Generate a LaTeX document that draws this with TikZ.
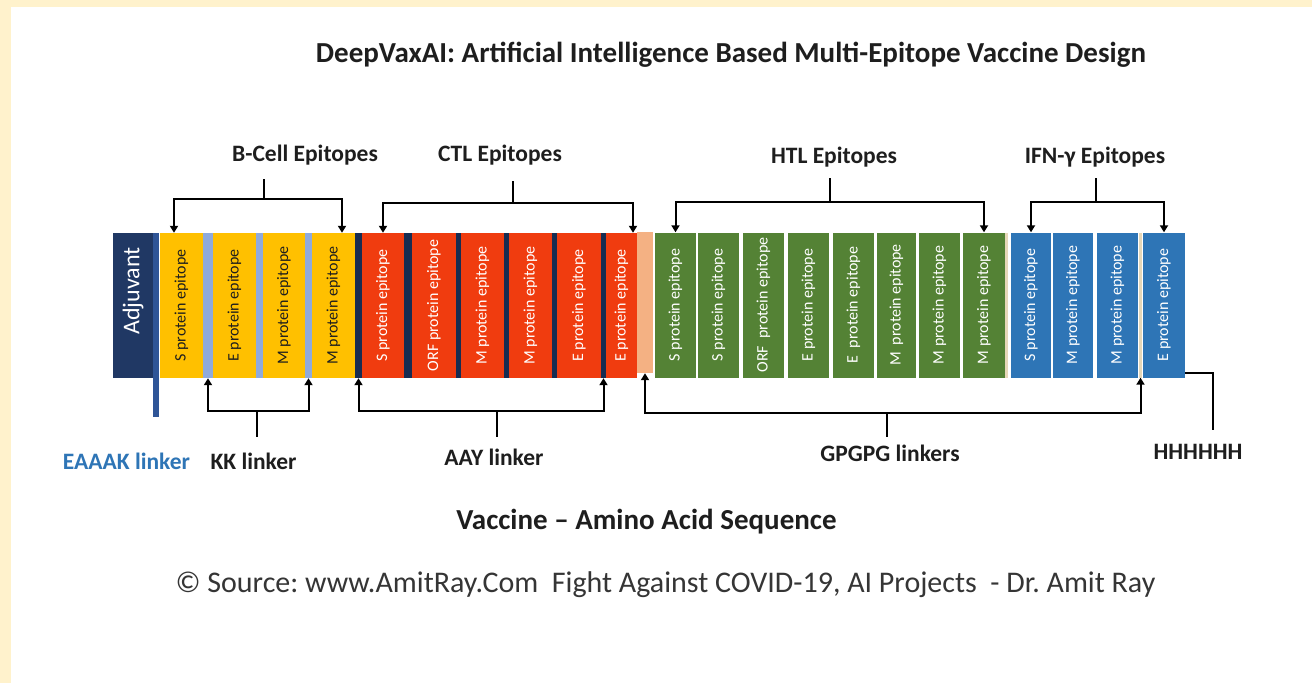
\documentclass[tikz,border=0pt]{standalone}
\usepackage{fontspec}
\setmainfont{Carlito}
\usetikzlibrary{arrows.meta}
\frenchspacing

\definecolor{cream}{HTML}{FFF2CC}
\definecolor{adjnavy}{HTML}{203864}
\definecolor{eaaakblue}{HTML}{2F5597}
\definecolor{kkblue}{HTML}{8FAADC}
\definecolor{aaynavy}{HTML}{172C51}
\definecolor{bcyellow}{HTML}{FFC000}
\definecolor{ctlred}{HTML}{F03C0F}
\definecolor{gpgpeach}{HTML}{F4B183}
\definecolor{htlgreen}{HTML}{548235}
\definecolor{ifnblue}{HTML}{2E75B6}
\definecolor{linkbeige}{HTML}{E6D7B8}
\definecolor{darktext}{HTML}{1E1E1E}

\begin{document}
\begin{tikzpicture}[x=1pt,y=-1pt,
  epi/.style={minimum height=145pt,text=white,font=\fontsize{16}{18}\selectfont},
  lnk/.style={minimum height=145pt},
  lab/.style={text=darktext,font=\fontsize{23.5}{26}\selectfont\bfseries},
  brk/.style={line width=2pt,<->,>={Triangle[length=7pt,width=8pt]}},
  stem/.style={line width=2pt}]
\tikzstyle{every node}+=[inner sep=0pt]
\useasboundingbox (0,0) rectangle (1312,683);
\fill [white] (0,0) rectangle (1312,683);
\fill [cream] (0,0) rectangle (1312,7);
\fill [cream] (0,0) rectangle (11,683);

% title
\node [text=darktext,font=\fontsize{29}{32}\selectfont\bfseries] (title) at (731,55) {DeepVaxAI: Artificial Intelligence Based Multi-Epitope Vaccine Design};

% adjuvant and EAAAK linker
\node [epi,fill=adjnavy,minimum width=40pt,font=\fontsize{24}{26}\selectfont] (adj) at (133,305) {\rotatebox{90}{\hspace{28pt}Adjuvant}};
\node [fill=eaaakblue,minimum width=6pt,minimum height=184pt] (e1) at (156,325) {};

% B-cell epitopes and KK linkers
\node [epi,fill=bcyellow,text=darktext,minimum width=43pt] (b1) at (181.5,305.5) {\rotatebox{90}{S protein epitope}};
\node [lnk,fill=kkblue,minimum width=10pt] (k1) at (208,305.5) {};
\node [epi,fill=bcyellow,text=darktext,minimum width=43pt] (b2) at (234.5,305.5) {\rotatebox{90}{E protein epitope}};
\node [lnk,fill=kkblue,minimum width=7pt] (k2) at (259.5,305.5) {};
\node [epi,fill=bcyellow,text=darktext,minimum width=42pt] (b3) at (284,305.5) {\rotatebox{90}{M protein epitope}};
\node [lnk,fill=kkblue,minimum width=7pt] (k3) at (308.5,305.5) {};
\node [epi,fill=bcyellow,text=darktext,minimum width=43pt] (b4) at (333.5,305.5) {\rotatebox{90}{M protein epitope}};

% CTL epitopes and AAY linkers
\node [lnk,fill=aaynavy,minimum width=7pt] (a0) at (358.5,305.5) {};
\node [epi,fill=ctlred,minimum width=42pt] (c1) at (383,305.5) {\rotatebox{90}{S protein epitope}};
\node [lnk,fill=aaynavy,minimum width=8pt] (a1) at (408,305.5) {};
\node [epi,fill=ctlred,minimum width=44pt] (c2) at (434,305.5) {\rotatebox{90}{ORF protein epitope}};
\node [lnk,fill=aaynavy,minimum width=5pt] (a2) at (458.5,305.5) {};
\node [epi,fill=ctlred,minimum width=43pt] (c3) at (482.5,305.5) {\rotatebox{90}{M protein epitope}};
\node [lnk,fill=aaynavy,minimum width=5pt] (a3) at (506.5,305.5) {};
\node [epi,fill=ctlred,minimum width=43pt] (c4) at (530.5,305.5) {\rotatebox{90}{M protein epitope}};
\node [lnk,fill=aaynavy,minimum width=5pt] (a4) at (554.5,305.5) {};
\node [epi,fill=ctlred,minimum width=44pt] (c5) at (579,305.5) {\rotatebox{90}{E protein epitope}};
\node [lnk,fill=aaynavy,minimum width=5pt] (a5) at (603.5,305.5) {};
\node [epi,fill=ctlred,minimum width=31pt] (c6) at (621.5,305.5) {\rotatebox{90}{E protein epitope}};

% HTL epitopes and GPGPG linkers
\node [fill=gpgpeach,minimum width=16pt,minimum height=141pt] (g0) at (645,302.5) {};
\node [epi,fill=htlgreen,minimum width=41pt] (h1) at (675.5,305) {\rotatebox{90}{S protein epitope}};
\node [epi,fill=htlgreen,minimum width=41pt] (h2) at (718.5,305) {\rotatebox{90}{S protein epitope}};
\node [epi,fill=htlgreen,minimum width=41pt] (h3) at (763.5,305) {\rotatebox{90}{ORF~ protein epitope}};
\node [epi,fill=htlgreen,minimum width=41pt] (h4) at (808.5,305) {\rotatebox{90}{E protein epitope}};
\node [epi,fill=htlgreen,minimum width=41pt] (h5) at (853.5,305) {\rotatebox{90}{E~ protein epitope}};
\node [epi,fill=htlgreen,minimum width=39pt] (h6) at (896.5,305) {\rotatebox{90}{M~ protein epitope}};
\node [epi,fill=htlgreen,minimum width=41pt] (h7) at (939.5,305) {\rotatebox{90}{M protein epitope}};
\node [epi,fill=htlgreen,minimum width=42pt] (h8) at (984,305) {\rotatebox{90}{M protein epitope}};
\node [lnk,fill=linkbeige,minimum width=3pt] (g1) at (1006.5,305) {};

% IFN-gamma epitopes
\node [epi,fill=ifnblue,minimum width=40pt] (i1) at (1031,305) {\rotatebox{90}{S protein epitope}};
\node [epi,fill=ifnblue,minimum width=40pt] (i2) at (1073,305) {\rotatebox{90}{M protein epitope}};
\node [epi,fill=ifnblue,minimum width=41pt] (i3) at (1117.5,305) {\rotatebox{90}{M protein epitope}};
\node [lnk,fill=linkbeige,minimum width=3pt] (g2) at (1140.5,305) {};
\node [epi,fill=ifnblue,minimum width=42pt] (i4) at (1164,305) {\rotatebox{90}{E protein epitope}};

% epitope labels and brackets
\node [lab] (bclab) at (305,155) {B-Cell Epitopes};
\node [lab] (ctllab) at (500,155) {CTL Epitopes};
\node [lab] (htllab) at (834,157) {HTL Epitopes};
\node [lab] (ifnlab) at (1095,157) {IFN-γ Epitopes};
\coordinate (bctop) at (264,179);
\coordinate (bcj) at (264,199);
\coordinate (ctltop) at (513,181);
\coordinate (ctlj) at (513,203);
\coordinate (htltop) at (830,178);
\coordinate (htlj) at (830,202);
\coordinate (ifntop) at (1096,178);
\coordinate (ifnj) at (1096,202);
\draw [stem] (bctop) -- (bcj);
\draw [brk] ([xshift=-7.5pt]b1.north) |- (bcj) -| ([xshift=8.5pt]b4.north);
\draw [stem] (ctltop) -- (ctlj);
\draw [brk] (c1.north) |- (ctlj) -| ([xshift=11.5pt]c6.north);
\draw [stem] (htltop) -- (htlj);
\draw [brk] (h1.north) |- (htlj) -| (h8.north);
\draw [stem] (ifntop) -- (ifnj);
\draw [brk] (i1.north) |- (ifnj) -| (i4.north);

% linker labels and brackets
\node [lab,text=ifnblue] (eaaaklab) at (126.5,461) {EAAAK linker};
\node [lab] (kklab) at (253.5,461) {KK linker};
\node [lab] (aaylab) at (494,457) {AAY linker};
\node [lab] (gpglab) at (890,453) {GPGPG linkers};
\node [lab] (hislab) at (1198,452) {HHHHHH};
\coordinate (kkj) at (257,411);
\coordinate (kkbot) at (257,437);
\coordinate (aayj) at (497,411);
\coordinate (aaybot) at (497,437);
\coordinate (gpgj) at (887,413);
\coordinate (gpgbot) at (887,437);
\coordinate (hisbot) at (1213,430);
\draw [brk] (k1.south) |- (kkj) -| (k3.south);
\draw [stem] (kkj) -- (kkbot);
\draw [brk] (a0.south) |- (aayj) -| (a5.south);
\draw [stem] (aayj) -- (aaybot);
\draw [brk] (g0.south) |- (gpgj) -| (g2.south);
\draw [stem] (gpgj) -- (gpgbot);
\draw [stem,line width=1.6pt] ([yshift=5pt]i4.south east) -| (hisbot);

% bottom texts
\node [text=darktext,font=\fontsize{29}{32}\selectfont\bfseries] (seqlab) at (646.5,522) {Vaccine – Amino Acid Sequence};
\node [text=darktext!90,font=\fontsize{30}{34}\selectfont] (srclab) at (665.5,585) {© Source: www.AmitRay.Com~ Fight Against COVID-19, AI Projects~ - Dr. Amit Ray};
\end{tikzpicture}
\end{document}
